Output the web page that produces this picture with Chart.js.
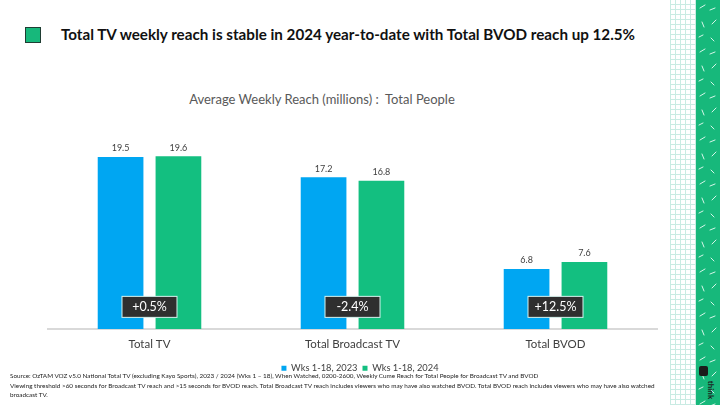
<!DOCTYPE html>
<html lang="en">
<head>
    <meta charset="UTF-8">
    <title>Total TV weekly reach</title>
    <script src="https://cdn.jsdelivr.net/npm/chart.js"></script>
    <style>
        body {
            margin: 0;
            width: 720px;
            height: 405px;
            overflow: hidden;
            background: #fff;
            font-family: Lato, "Open Sans", sans-serif;
            position: relative;
        }
        #marker {
            position: absolute;
            left: 25px; top: 27px;
            width: 14px; height: 14px;
            background: #17b87b;
            border: 1px solid #1f3d33;
        }
        #heading {
            position: absolute;
            left: 61px; top: 25px;
            font-size: 15.2px;
            font-weight: bold;
            color: #111;
            white-space: nowrap;
        }
        #subTitle {
            position: absolute;
            left: 0; width: 644px; top: 91px;
            text-align: center;
            font-size: 13px;
            color: #595959;
        }
        #source {
            position: absolute;
            left: 10px; top: 371px;
            width: 668px;
            font-size: 6.35px;
            line-height: 9.5px;
            color: #222;
        }
        #grid {
            position: absolute;
            left: 670px; top: 0; width: 26px; height: 405px;
            background:
                repeating-linear-gradient(90deg, #c9ebe3 0 1px, transparent 1px 5px),
                repeating-linear-gradient(0deg, #c9ebe3 0 1px, transparent 1px 5px);
        }
        #band {
            position: absolute;
            left: 696px; top: 0; width: 24px; height: 405px;
            background-color: #17b87b;
            background-image: url("data:image/svg+xml,%3Csvg xmlns='http://www.w3.org/2000/svg' width='24' height='44'%3E%3Cg stroke='%23d5f5e8' stroke-width='1' stroke-linecap='round'%3E%3Cpath d='M4 8 L9 5'/%3E%3Cpath d='M14 10 L19 8'/%3E%3Cpath d='M6 22 L8 27'/%3E%3Cpath d='M16 24 L20 20'/%3E%3Cpath d='M3 37 L7 35'/%3E%3Cpath d='M15 38 L18 41'/%3E%3C/g%3E%3C/svg%3E");
        }
        #logo {
            position: absolute;
            left: 699px; top: 366px;
            width: 9px; height: 10px;
            background: #1b1b1b;
            border-radius: 2px;
        }
        #logoText {
            position: absolute;
            left: 702px; top: 385px;
            font-size: 8px;
            font-weight: bold;
            color: #1b1b1b;
            transform: rotate(90deg);
        }
        canvas {
            position: absolute;
            left: 0; top: 0;
        }
    </style>
</head>
<body>
    <div id="grid"></div>
    <div id="band"></div>
    <div id="logo"></div>
    <div id="logoText">think</div>
    <div id="marker"></div>
    <div id="heading">Total TV weekly reach is stable in 2024 year-to-date with Total BVOD reach up 12.5%</div>
    <div id="subTitle">Average Weekly Reach (millions) :&nbsp; Total People</div>

    <canvas id="reachChart" width="720" height="405"></canvas>

    <div id="source">Source: OzTAM VOZ v5.0 National Total TV (excluding Kayo Sports), 2023 / 2024 (Wks 1 – 18), When Watched, 0200-2600, Weekly Cume Reach for Total People for Broadcast TV and BVOD<br>Viewing threshold &gt;60 seconds for Broadcast TV reach and &gt;15 seconds for BVOD reach. Total Broadcast TV reach includes viewers who may have also watched BVOD. Total BVOD reach includes viewers who may have also watched broadcast TV.</div>

    <script>
        const categories = ['Total TV', 'Total Broadcast TV', 'Total BVOD'];
        const reach2023 = [19.5, 17.2, 6.8];
        const reach2024 = [19.6, 16.8, 7.6];
        const changeLabels = ['+0.5%', '-2.4%', '+12.5%'];
        const seriesNames = ['Wks 1-18, 2023', 'Wks 1-18, 2024'];

        // value labels above each bar
        const valueLabels = {
            id: 'valueLabels',
            afterDatasetsDraw(chart) {
                const ctx = chart.ctx;
                ctx.save();
                ctx.font = '9px Lato';
                ctx.fillStyle = '#404040';
                ctx.textAlign = 'center';
                ctx.textBaseline = 'bottom';
                chart.data.datasets.forEach((ds, i) => {
                    chart.getDatasetMeta(i).data.forEach((bar, j) => {
                        ctx.fillText(ds.data[j].toFixed(1), bar.x, bar.y - 4);
                    });
                });
                ctx.restore();
            }
        };

        // dark change boxes sitting between the bars
        const changeBoxes = {
            id: 'changeBoxes',
            afterDatasetsDraw(chart) {
                const ctx = chart.ctx;
                const xScale = chart.scales.x;
                const yScale = chart.scales.y;
                const cy = yScale.getPixelForValue(2.5);
                ctx.save();
                changeLabels.forEach((txt, i) => {
                    const cx = xScale.getPixelForValue(i);
                    ctx.fillStyle = '#2f2f2f';
                    ctx.fillRect(cx - 27.5, cy - 10.5, 55, 21);
                    ctx.strokeStyle = '#d8f3ee';
                    ctx.lineWidth = 1;
                    ctx.strokeRect(cx - 27.5, cy - 10.5, 55, 21);
                    ctx.fillStyle = '#ffffff';
                    ctx.font = '12.5px Lato';
                    ctx.textAlign = 'center';
                    ctx.textBaseline = 'middle';
                    ctx.fillText(txt, cx, cy + 0.5);
                });
                ctx.restore();
            }
        };

        new Chart(document.getElementById('reachChart'), {
            type: 'bar',
            data: {
                labels: categories,
                datasets: [{
                    label: seriesNames[0],
                    data: reach2023,
                    backgroundColor: '#00a6f2',
                    categoryPercentage: 0.57,
                    barPercentage: 0.79
                }, {
                    label: seriesNames[1],
                    data: reach2024,
                    backgroundColor: '#13bf80',
                    categoryPercentage: 0.57,
                    barPercentage: 0.79
                }]
            },
            options: {
                responsive: false,
                animation: false,
                layout: {
                    padding: { left: 48, right: 48, top: 135, bottom: 22 }
                },
                scales: {
                    x: {
                        grid: { display: false, drawTicks: false },
                        border: { color: '#d9d9d9', width: 2 },
                        ticks: {
                            padding: 8,
                            color: '#404040',
                            font: { family: 'Lato', size: 11.5 }
                        }
                    },
                    y: {
                        position: 'right',
                        min: 0,
                        max: 22,
                        grid: { display: false, drawTicks: false },
                        border: { display: false },
                        ticks: { display: false },
                        afterFit(scale) { scale.width = 15; }
                    }
                },
                plugins: {
                    legend: {
                        position: 'bottom',
                        labels: {
                            boxWidth: 5,
                            boxHeight: 5,
                            padding: 5,
                            color: '#404040',
                            font: { family: 'Lato', size: 9.3 }
                        }
                    },
                    tooltip: { enabled: false }
                }
            },
            plugins: [valueLabels, changeBoxes]
        });
    </script>
</body>
</html>
